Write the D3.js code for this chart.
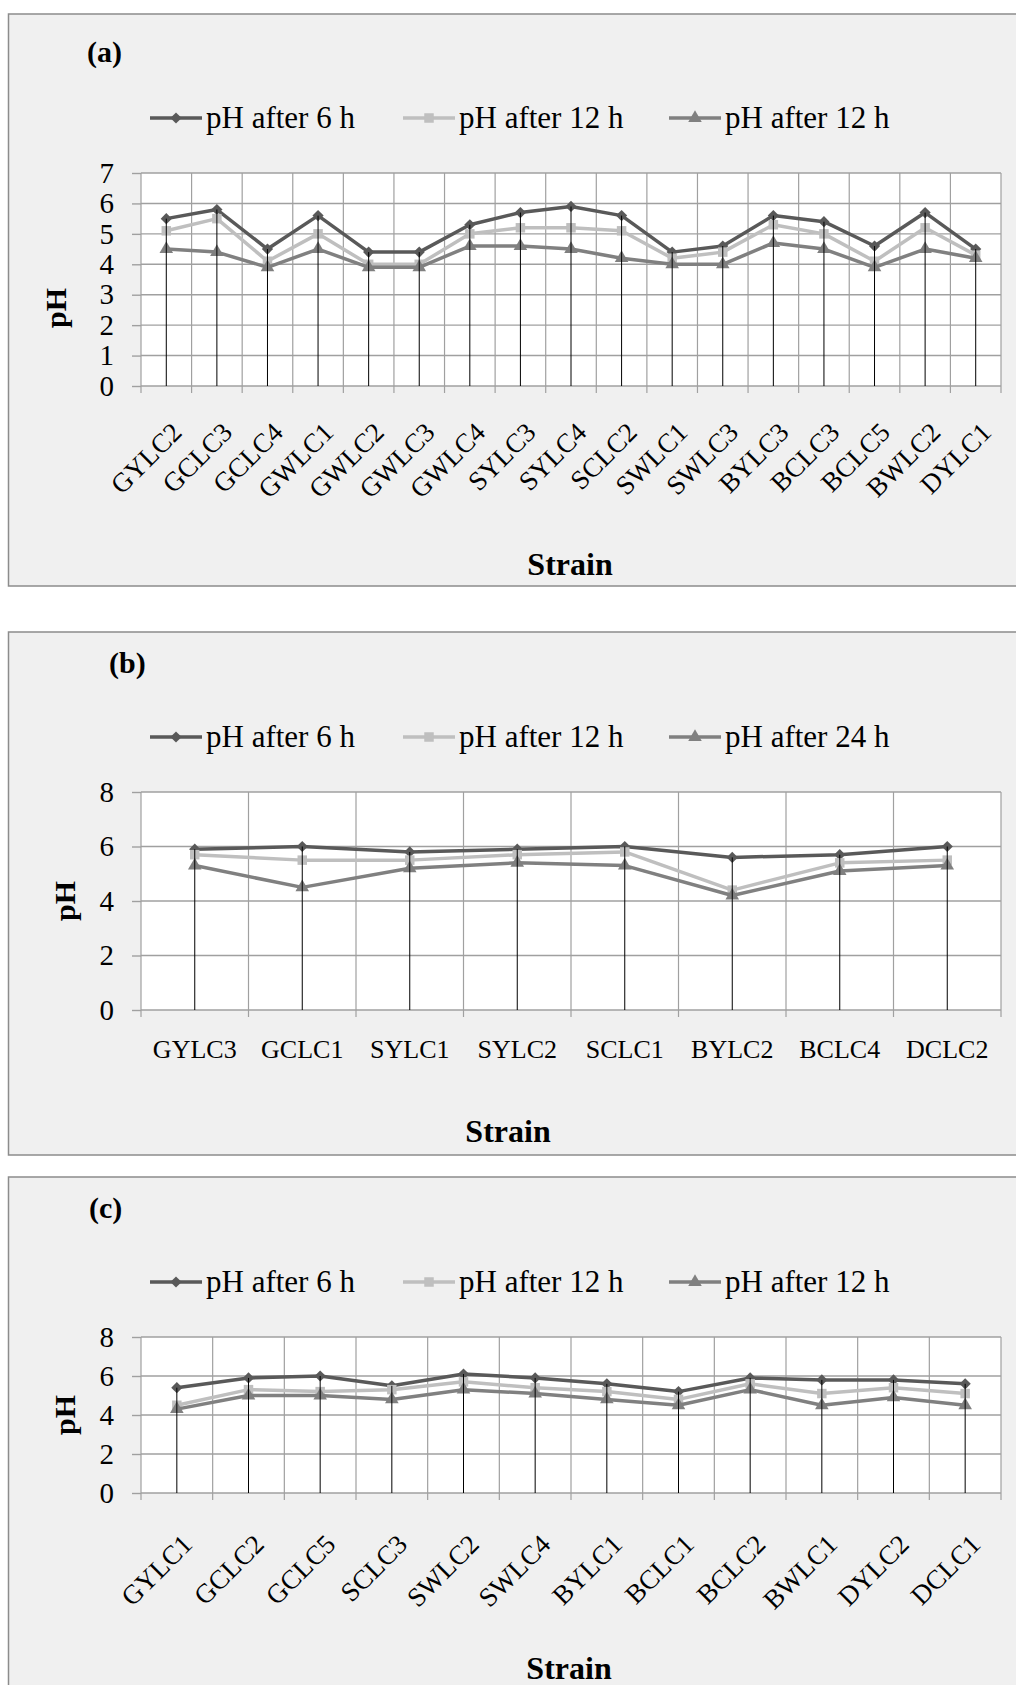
<!DOCTYPE html>
<html>
<head>
<meta charset="utf-8">
<script src="https://cdn.jsdelivr.net/npm/d3@7"></script>
<style>
  body { margin: 0; background: #ffffff; }
  svg text { font-family: "Liberation Serif", "Times New Roman", serif; fill: #000; }
</style>
</head>
<body>
<svg id="chart" width="1016" height="1685"></svg>
<script>
// ---- panel (a) ----
const strainsA = ['GYLC2', 'GCLC3', 'GCLC4', 'GWLC1', 'GWLC2', 'GWLC3', 'GWLC4', 'SYLC3', 'SYLC4',
  'SCLC2', 'SWLC1', 'SWLC3', 'BYLC3', 'BCLC3', 'BCLC5', 'BWLC2', 'DYLC1'];
const ph6A = [5.5, 5.8, 4.5, 5.6, 4.4, 4.4, 5.3, 5.7, 5.9, 5.6, 4.4, 4.6, 5.6, 5.4, 4.6, 5.7, 4.5];
const ph12A = [5.1, 5.5, 4.1, 5.0, 4.0, 4.0, 5.0, 5.2, 5.2, 5.1, 4.2, 4.4, 5.3, 5.0, 4.1, 5.2, 4.3];
const ph24A = [4.5, 4.4, 3.9, 4.5, 3.9, 3.9, 4.6, 4.6, 4.5, 4.2, 4.0, 4.0, 4.7, 4.5, 3.9, 4.5, 4.2];
const legendA = ['pH after 6 h', 'pH after 12 h', 'pH after 12 h'];
const yTicksA = [0, 1, 2, 3, 4, 5, 6, 7];

// ---- panel (b) ----
const strainsB = ['GYLC3', 'GCLC1', 'SYLC1', 'SYLC2', 'SCLC1', 'BYLC2', 'BCLC4', 'DCLC2'];
const ph6B = [5.9, 6.0, 5.8, 5.9, 6.0, 5.6, 5.7, 6.0];
const ph12B = [5.7, 5.5, 5.5, 5.7, 5.8, 4.4, 5.4, 5.5];
const ph24B = [5.3, 4.5, 5.2, 5.4, 5.3, 4.2, 5.1, 5.3];
const legendB = ['pH after 6 h', 'pH after 12 h', 'pH after 24 h'];
const yTicksB = [0, 2, 4, 6, 8];

// ---- panel (c) ----
const strainsC = ['GYLC1', 'GCLC2', 'GCLC5', 'SCLC3', 'SWLC2', 'SWLC4', 'BYLC1', 'BCLC1', 'BCLC2',
  'BWLC1', 'DYLC2', 'DCLC1'];
const ph6C = [5.4, 5.9, 6.0, 5.5, 6.1, 5.9, 5.6, 5.2, 5.9, 5.8, 5.8, 5.6];
const ph12C = [4.5, 5.3, 5.2, 5.3, 5.7, 5.4, 5.2, 4.8, 5.6, 5.1, 5.4, 5.1];
const ph24C = [4.3, 5.0, 5.0, 4.8, 5.3, 5.1, 4.8, 4.5, 5.3, 4.5, 4.9, 4.5];
const legendC = ['pH after 6 h', 'pH after 12 h', 'pH after 12 h'];
const yTicksC = [0, 2, 4, 6, 8];

// series look: dark diamond, light square, mid triangle
const seriesStyle = [
  { color: '#595959', symbol: d3.symbolDiamond2, size: 80 },
  { color: '#bfbfbf', symbol: d3.symbolSquare, size: 90 },
  { color: '#808080', symbol: d3.symbolTriangle, size: 80 },
];
const legendX = [150, 403, 669];
const SERIF = '"Liberation Serif", "Times New Roman", serif';

const svg = d3.select('#chart');
const PLOT_LEFT = 141;
const PLOT_RIGHT = 1001;

function drawPanel(cfg) {
  const g = svg.append('g').attr('font-family', SERIF);

  // outer frame
  g.append('rect')
    .attr('x', 8.5)
    .attr('y', cfg.boxTop)
    .attr('width', 1040)
    .attr('height', cfg.boxHeight)
    .attr('fill', '#f0f0f0')
    .attr('stroke', '#8c8c8c')
    .attr('stroke-width', 1.5);

  const x = d3.scaleBand().domain(cfg.strains).range([PLOT_LEFT, PLOT_RIGHT]);
  const y = d3.scaleLinear().domain([0, d3.max(cfg.yTicks)]).range([cfg.bottom, cfg.top]);
  const cx = (d) => x(d) + x.bandwidth() / 2;

  g.append('rect')
    .attr('x', PLOT_LEFT)
    .attr('y', cfg.top)
    .attr('width', PLOT_RIGHT - PLOT_LEFT)
    .attr('height', cfg.bottom - cfg.top)
    .attr('fill', '#ffffff');

  // horizontal grid
  g.selectAll('.hgrid')
    .data(cfg.yTicks)
    .enter()
    .append('line')
    .attr('x1', PLOT_LEFT)
    .attr('x2', PLOT_RIGHT)
    .attr('y1', (d) => y(d))
    .attr('y2', (d) => y(d))
    .attr('stroke', '#a0a0a0')
    .attr('stroke-width', 1.4);

  // vertical grid at category boundaries, with small ticks under the axis
  const bounds = cfg.strains.map((d) => x(d)).concat([PLOT_RIGHT]);
  g.selectAll('.vgrid')
    .data(bounds)
    .enter()
    .append('line')
    .attr('x1', (d) => d)
    .attr('x2', (d) => d)
    .attr('y1', cfg.top)
    .attr('y2', cfg.bottom + 7)
    .attr('stroke', '#a0a0a0')
    .attr('stroke-width', 1.2);

  // y axis
  const yAxis = g.append('g')
    .attr('transform', `translate(${PLOT_LEFT},0)`)
    .call(d3.axisLeft(y)
      .tickValues(cfg.yTicks)
      .tickFormat(d3.format('d'))
      .tickSize(9)
      .tickSizeOuter(0)
      .tickPadding(18));
  yAxis.attr('font-family', SERIF).attr('font-size', null);
  yAxis.select('.domain').remove();
  yAxis.selectAll('line').attr('stroke', '#a0a0a0').attr('stroke-width', 1.4);
  yAxis.selectAll('text')
    .style('font-family', SERIF)
    .attr('font-size', '29px')
    .attr('fill', '#000');

  // series lines + markers
  const data = [cfg.ph6, cfg.ph12, cfg.ph24];
  data.forEach((vals, si) => {
    const st = seriesStyle[si];
    const line = d3.line()
      .x((d, i) => cx(cfg.strains[i]))
      .y((d) => y(d));
    g.append('path')
      .datum(vals)
      .attr('fill', 'none')
      .attr('stroke', st.color)
      .attr('stroke-width', 3.5)
      .attr('stroke-linejoin', 'round')
      .attr('d', line);
    g.selectAll('.m' + si)
      .data(vals)
      .enter()
      .append('path')
      .attr('transform', (d, i) => `translate(${cx(cfg.strains[i])},${y(d)})`)
      .attr('d', d3.symbol().type(st.symbol).size(st.size))
      .attr('fill', st.color);
  });

  // drop lines from the highest point to the axis
  g.selectAll('.drop')
    .data(cfg.strains)
    .enter()
    .append('line')
    .attr('x1', (d) => cx(d))
    .attr('x2', (d) => cx(d))
    .attr('y1', (d, i) => y(Math.max(cfg.ph6[i], cfg.ph12[i], cfg.ph24[i])))
    .attr('y2', y(0))
    .attr('stroke', '#000')
    .attr('stroke-width', 1);

  // category labels
  const labels = g.selectAll('.xlabel')
    .data(cfg.strains)
    .enter()
    .append('text')
    .style('font-family', SERIF)
    .text((d) => d);
  if (cfg.rotate) {
    labels
      .attr('text-anchor', 'end')
      .attr('font-size', '27px')
      .attr('transform', (d) => `translate(${cx(d) + 17},${cfg.bottom + cfg.labelOffset}) rotate(-45)`);
  } else {
    labels
      .attr('text-anchor', 'middle')
      .attr('font-size', '26px')
      .attr('x', (d) => cx(d))
      .attr('y', cfg.bottom + cfg.labelOffset);
  }

  // legend
  cfg.legend.forEach((name, si) => {
    const st = seriesStyle[si];
    const lx = legendX[si];
    g.append('line')
      .attr('x1', lx)
      .attr('x2', lx + 52)
      .attr('y1', cfg.legendY)
      .attr('y2', cfg.legendY)
      .attr('stroke', st.color)
      .attr('stroke-width', 3.5);
    g.append('path')
      .attr('transform', `translate(${lx + 26},${cfg.legendY})`)
      .attr('d', d3.symbol().type(st.symbol).size(st.size))
      .attr('fill', st.color);
    g.append('text')
      .attr('x', lx + 56)
      .attr('y', cfg.legendY)
      .attr('dy', '0.32em')
      .attr('font-size', '31px')
      .style('font-family', SERIF)
      .text(name);
  });

  // panel letter
  g.append('text')
    .attr('x', cfg.titleX)
    .attr('y', cfg.titleY)
    .attr('font-size', '30px')
    .attr('font-weight', 'bold')
    .style('font-family', SERIF)
    .text(cfg.title);

  // axis titles
  g.append('text')
    .attr('transform', `translate(${cfg.yTitle[0]},${cfg.yTitle[1]}) rotate(-90)`)
    .attr('text-anchor', 'middle')
    .attr('dy', '0.35em')
    .attr('font-size', '30px')
    .attr('font-weight', 'bold')
    .style('font-family', SERIF)
    .text('pH');

  g.append('text')
    .attr('x', cfg.xTitle[0])
    .attr('y', cfg.xTitle[1])
    .attr('text-anchor', 'middle')
    .attr('font-size', '32px')
    .attr('font-weight', 'bold')
    .style('font-family', SERIF)
    .text('Strain');
}

drawPanel({
  strains: strainsA, ph6: ph6A, ph12: ph12A, ph24: ph24A, legend: legendA, yTicks: yTicksA,
  boxTop: 14, boxHeight: 572, top: 173, bottom: 386,
  title: '(a)', titleX: 87, titleY: 62, legendY: 118,
  yTitle: [55, 308], xTitle: [570, 575], rotate: true, labelOffset: 48,
});

drawPanel({
  strains: strainsB, ph6: ph6B, ph12: ph12B, ph24: ph24B, legend: legendB, yTicks: yTicksB,
  boxTop: 632, boxHeight: 523, top: 792, bottom: 1010,
  title: '(b)', titleX: 109, titleY: 673, legendY: 737,
  yTitle: [64, 901], xTitle: [508, 1142], rotate: false, labelOffset: 48,
});

drawPanel({
  strains: strainsC, ph6: ph6C, ph12: ph12C, ph24: ph24C, legend: legendC, yTicks: yTicksC,
  boxTop: 1177, boxHeight: 600, top: 1337, bottom: 1493,
  title: '(c)', titleX: 89, titleY: 1218, legendY: 1282,
  yTitle: [64, 1415], xTitle: [569, 1679], rotate: true, labelOffset: 53,
});
</script>
</body>
</html>
